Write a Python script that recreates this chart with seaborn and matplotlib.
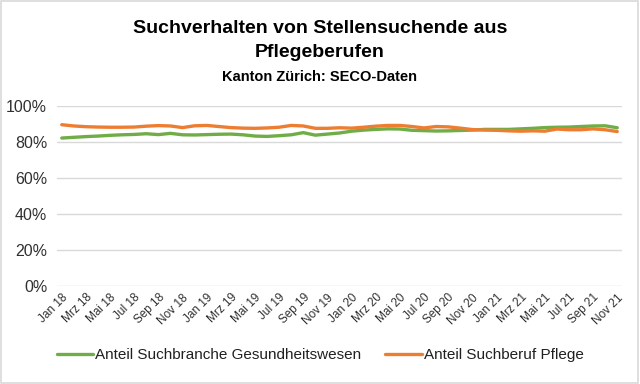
import pandas as pd
import seaborn as sns
import matplotlib.pyplot as plt
from matplotlib.patches import Rectangle
from matplotlib.ticker import PercentFormatter

# monthly data Jan 18 - Nov 21
month_names = ["Jan", "Feb", "Mrz", "Apr", "Mai", "Jun", "Jul", "Aug", "Sep", "Okt", "Nov", "Dez"]
years = ["18", "19", "20", "21"]
months = [m + " " + y for y in years for m in month_names][:47]

gesundheit = [82.2, 82.6, 83.0, 83.3, 83.7, 84.0, 84.2, 84.6, 84.1, 84.8, 84.0, 83.9,
              84.1, 84.3, 84.4, 84.0, 83.3, 83.1, 83.5, 84.0, 85.2, 83.8, 84.4, 85.0,
              86.0, 86.6, 87.0, 87.3, 87.2, 86.5, 86.3, 86.1, 86.2, 86.4, 86.6, 87.0,
              87.0, 87.0, 87.3, 87.6, 88.0, 88.2, 88.3, 88.6, 88.9, 89.0, 87.9]
pflege = [89.6, 88.9, 88.5, 88.3, 88.2, 88.2, 88.3, 88.8, 89.1, 88.9, 88.0, 89.0,
          89.2, 88.6, 88.0, 87.7, 87.6, 87.8, 88.2, 89.2, 88.9, 87.6, 87.6, 87.9,
          87.7, 88.2, 88.8, 89.2, 89.2, 88.6, 87.8, 88.6, 88.4, 87.7, 86.9, 86.6,
          86.5, 86.2, 86.0, 86.2, 86.0, 87.2, 86.8, 86.8, 87.3, 86.8, 85.8]

series = ["Anteil Suchbranche Gesundheitswesen", "Anteil Suchberuf Pflege"]
colors = ["#70AD47", "#ED7D31"]

df = pd.DataFrame({
    "idx": list(range(len(months))) * 2,
    "wert": [v / 100 for v in gesundheit + pflege],
    "serie": [series[0]] * len(months) + [series[1]] * len(months),
})

sns.set_theme(style="white")
plt.rcParams["font.family"] = ["Liberation Sans", "DejaVu Sans"]

fig = plt.figure(figsize=(6.4, 3.84), dpi=100)
ax = fig.add_axes([0.089, 0.255, 0.883, 0.469])
fig.patches.append(Rectangle((0.002, 0.003), 0.995, 0.994, transform=fig.transFigure,
                             fill=False, edgecolor="#D9D9D9", linewidth=1.2))

sns.lineplot(data=df, x="idx", y="wert", hue="serie", palette=colors,
             linewidth=2.4, ax=ax)

ax.set_ylim(0, 1)
ax.set_xlim(-0.4, 46.4)
ax.set_yticks([0, 0.2, 0.4, 0.6, 0.8, 1.0])
ax.yaxis.set_major_formatter(PercentFormatter(1.0, decimals=0))
ax.set_xticks(list(range(0, len(months), 2)))
ax.set_xticklabels(months[::2], rotation=45, ha="right", rotation_mode="anchor",
                   fontsize=8.5, color="#303030")
ax.tick_params(axis="y", labelsize=11.5, colors="#303030", length=0, pad=7)
ax.tick_params(axis="x", length=0, pad=4)
ax.yaxis.grid(True, color="#D9D9D9", linewidth=1)
ax.set_axisbelow(True)
for s in ax.spines.values():
    s.set_visible(False)
ax.set_xlabel("")
ax.set_ylabel("")

fig.text(0.5, 0.927, "Suchverhalten von Stellensuchende aus", ha="center", va="center",
         fontsize=14, fontweight="bold", color="black")
fig.text(0.5, 0.862, "Pflegeberufen", ha="center", va="center",
         fontsize=14, fontweight="bold", color="black")
fig.text(0.5, 0.8, "Kanton Zürich: SECO-Daten", ha="center", va="center",
         fontsize=10.5, fontweight="bold", color="black")

ax.legend(loc="center", frameon=False, ncol=2, fontsize=11, handlelength=2.4,
          handletextpad=0.1, columnspacing=1.6, labelcolor="#202020")
leg = ax.get_legend()
leg.set_bbox_to_anchor((0.5, 0.075), transform=fig.transFigure)

fig.savefig("out.png", dpi=100)
